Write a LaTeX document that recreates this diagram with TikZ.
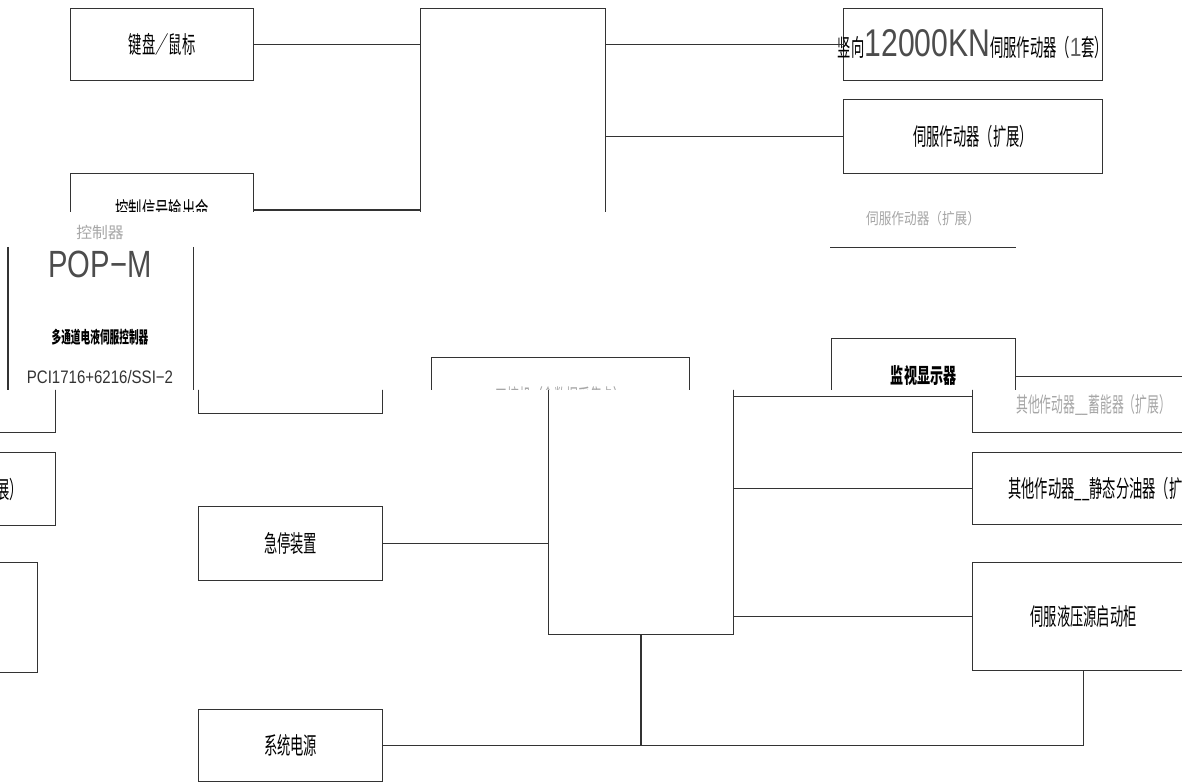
\documentclass[tikz,border=0pt]{standalone}
\usepackage{fontspec}
\usepackage{graphicx}
\newfontfamily\cjk{Noto Sans CJK SC}
\newfontfamily\lat{Liberation Sans}
\newcommand\nar[2][0.56]{\scalebox{#1}[1]{#2}}
\usetikzlibrary{calc}

\tikzset{
  blk/.style={draw=black!80, line width=0.7pt, anchor=north west, inner sep=0pt,
    font=\cjk\fontsize{13.5}{15}\selectfont},
  open/.style={blk, draw=none},
  wire/.style={draw=black!80, line width=0.7pt},
  faint/.style={text=black!35, font=\cjk\fontsize{9}{10}\selectfont}
}

\begin{document}
\begin{tikzpicture}[x=0.02cm, y=-0.02cm]
    \useasboundingbox (0,0) rectangle (1182,783);

    % Top part
    \begin{scope}
      \clip (0,0) rectangle (1182,212);
      \node[blk, minimum width=3.66cm, minimum height=1.44cm] (kbd) at (70,8) {\nar{键盘／鼠标}};
      \node[blk, minimum width=3.66cm, minimum height=1.46cm] (sig) at (70,173) {\nar{控制信号输出命}};
      \node[blk, minimum width=3.7cm,  minimum height=6cm]    (ctr) at (420,8) {};
      \node[blk, minimum width=5.18cm, minimum height=1.44cm] (act1) at (843,8)
        {\makebox[0pt]{\nar{竖向}{\lat\fontsize{22}{24}\selectfont\color{black!70}\nar[0.78]{12000KN}}\nar{伺服作动器（}{\lat\fontsize{15}{16}\selectfont\color{black!60}\nar[0.8]{1}}\nar{套）}}};
      \node[blk, minimum width=5.18cm, minimum height=1.48cm] (act2) at (843,99) {\nar{伺服作动器（扩展）}};

      \path[wire]
        (kbd.east) -- (ctr.west |- kbd.east)
        (sig.east) -- (ctr.west |- sig.east)
        (ctr.east |- act1.west) -- (act1.west)
        (ctr.east |- act2.west) -- (act2.west);
    \end{scope}

    % Middle part
    \begin{scope}
      \clip (0,212) rectangle (1182,390);
      \node[open, minimum width=3.68cm, minimum height=3.2cm] (ctrl) at (8,247) {};
      \path[wire] (ctrl.north west) -- (ctrl.south west)
                  (ctrl.north east) -- (ctrl.south east);
      \node[faint] (ctrlname) at (100,232) {控制器};
      \node[text=black!70, font=\lat\fontsize{21.6}{24}\selectfont] (popm) at (100,264) {\nar[0.77]{POP−M}};
      \node[font=\cjk\bfseries\fontsize{9.5}{10}\selectfont] (multi) at (100,337) {\nar[0.58]{多通道电液伺服控制器}};
      \node[text=black!80, font=\lat\fontsize{10.3}{12}\selectfont] (pci) at (100,377) {\nar[0.83]{PCI1716+6216/SSI−2}};

      \node[open, minimum width=3.7cm, minimum height=1.12cm] (srv) at (830,190) {};
      \path[wire] (srv.south west) -- (srv.south east);
      \node[faint] (srvname) at (srv.center) {\nar[0.8]{伺服作动器（扩展）}};

      \node[blk, minimum width=3.68cm, minimum height=1.46cm] (mon) at (831,338)
        {\bfseries\fontsize{12}{13}\selectfont\nar[0.62]{监视显示器}};
      \node[blk, minimum width=5.16cm, minimum height=1.46cm] (host) at (431,357) {};
      \node[faint, font=\cjk\fontsize{12}{13}\selectfont] (hosttxt) at ([yshift=-0.04cm]host.center)
        {\nar{工控机（含数据采集卡）}};
    \end{scope}

    % Bottom part
    \begin{scope}
      \clip (0,390) -- (1016,390) -- (1016,370) -- (1182,370) -- (1182,783) -- (0,783) -- cycle;
      \node[blk, minimum width=3.68cm, minimum height=1.46cm] (lb0) at (198,340) {};
      \node[blk, minimum width=3.7cm, minimum height=1.46cm] (lf0) at (-130,359) {};
      \node[blk, minimum width=3.7cm, minimum height=1.46cm] (lf1) at (-130,452) {\nar{伺服作动器（扩展）}};
      \node[blk, minimum width=3.7cm, minimum height=2.2cm]  (lf2) at (-148,562) {};

      \node[blk, minimum width=3.7cm,  minimum height=6.68cm] (main) at (548,300) {};
      \node[blk, minimum width=4.44cm, minimum height=1.12cm] (r1) at (972,376) {};
      \node[faint, anchor=west, font=\cjk\fontsize{12}{13}\selectfont] (r1txt) at ([xshift=0.76cm]r1.west)
        {\nar{其他作动器\_\_蓄能器（扩展）}};
      \node[blk, minimum width=4.44cm, minimum height=1.44cm] (r2) at (972,452) {};
      \node[anchor=west, font=\cjk\fontsize{13.5}{15}\selectfont] (r2txt) at ([xshift=0.6cm]r2.west)
        {\nar{其他作动器\_\_静态分油器（扩展）}};
      \node[blk, minimum width=4.44cm, minimum height=2.16cm] (r3) at (972,562) {\nar{伺服液压源启动柜}};

      \node[blk, minimum width=3.68cm, minimum height=1.48cm] (jt)  at (198,506) {\nar{急停装置}};
      \node[blk, minimum width=3.68cm, minimum height=1.44cm] (pwr) at (198,709) {\nar{系统电源}};

      \coordinate (r1in) at ([yshift=0.16cm]r1.west);
      \path[wire]
        (jt.east) -- (main.west |- jt.east)
        (main.east |- r1in) -- (r1in)
        (main.east |- r2.west) -- (r2.west)
        (main.east |- r3.west) -- (r3.west)
        (main.south) -- (main.south |- pwr.east)
        (pwr.east) -- (r3.south |- pwr.east) -- (r3.south);
    \end{scope}
\end{tikzpicture}
\end{document}
